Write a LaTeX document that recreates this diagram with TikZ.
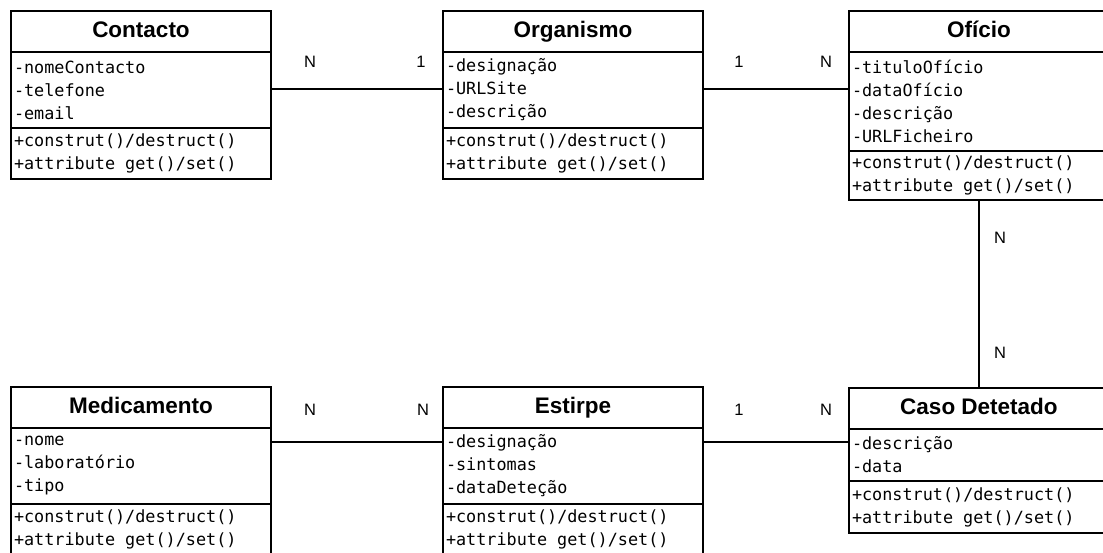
\documentclass[tikz,border=0pt]{standalone}
\usepackage{fontspec}
\setmainfont{Liberation Sans}
\newfontfamily\codefont{DejaVu Sans Mono}
\newcommand\codestyle{\fontsize{16.8}{23}\selectfont\codefont}
\usetikzlibrary{positioning}

\begin{document}
\begin{tikzpicture}[
  x=1pt, y=-1pt,
  node distance=0pt,
  every node/.style={outer sep=0pt},
  ctitle/.style={rectangle, draw=black, line width=2.2pt, minimum width=260pt,
                 minimum height=41pt, inner sep=0pt, text height=16pt, text depth=4pt,
                 font=\fontsize{22.5}{26}\selectfont\bfseries},
  cbody/.style={rectangle, draw=black, line width=2.2pt, minimum width=260pt,
                text width=254pt, inner xsep=3pt, inner ysep=0pt, align=left,
                font=\codestyle, execute at begin node={\spaceskip=10.1pt\relax}},
  link/.style={line width=2.4pt, color=black},
  mult/.style={font=\fontsize{16.5}{19}\selectfont, inner sep=0pt},
]
\useasboundingbox (0,0) rectangle (1103,553);
\clip (0,0) rectangle (1103,553);

% top row
\node[ctitle, anchor=north west] (contT) at (11,11) {Contacto};
\node[cbody, minimum height=76pt, below=of contT] (contA) {-nomeContacto\\-telefone\\-email};
\node[cbody, minimum height=51pt, below=of contA] (contM) {+construt()/destruct()\\+attribute get()/set()};

\node[ctitle, anchor=north west] (orgT) at (443,11) {Organismo};
\node[cbody, minimum height=76pt, below=of orgT] (orgA) {-designação\\-URLSite\\-descrição};
\node[cbody, minimum height=51pt, below=of orgA] (orgM) {+construt()/destruct()\\+attribute get()/set()};

\node[ctitle, anchor=north west] (ofiT) at (849,11) {Ofício};
\node[cbody, minimum height=99pt, below=of ofiT] (ofiA) {-tituloOfício\\-dataOfício\\-descrição\\-URLFicheiro};
\node[cbody, minimum height=49pt, below=of ofiA] (ofiM) {+construt()/destruct()\\+attribute get()/set()};

% bottom row
\node[ctitle, anchor=north west] (medT) at (11,387) {Medicamento};
\node[cbody, minimum height=76pt, below=of medT] (medA) {-nome\\-laboratório\\-tipo};
\node[cbody, minimum height=51pt, below=of medA] (medM) {+construt()/destruct()\\+attribute get()/set()};

\node[ctitle, anchor=north west] (estT) at (443,387) {Estirpe};
\node[cbody, minimum height=76pt, below=of estT] (estA) {-designação\\-sintomas\\-dataDeteção};
\node[cbody, minimum height=51pt, below=of estA] (estM) {+construt()/destruct()\\+attribute get()/set()};

\node[ctitle, anchor=north west] (casoT) at (849,388) {Caso Detetado};
\node[cbody, minimum height=52pt, below=of casoT] (casoA) {-descrição\\-data};
\node[cbody, minimum height=52pt, below=of casoA] (casoM) {+construt()/destruct()\\+attribute get()/set()};

% associations
\draw[link] ([yshift=-37pt]contA.north east) -- ([yshift=-37pt]orgA.north west);
\draw[link] ([yshift=-37pt]orgA.north east) -- ([yshift=-37pt]orgA.north east -| ofiA.west);
\draw[link] (ofiM.south) -- (casoT.north);
\draw[link] ([yshift=-14pt]medA.north east) -- ([yshift=-14pt]estA.north west);
\draw[link] ([yshift=-14pt]estA.north east) -- ([yshift=-14pt]estA.north east -| casoA.west);

% multiplicities
\node[mult] (m1) at (310,62) {N};
\node[mult] (m2) at (421,62) {1};
\node[mult] (m3) at (739,62) {1};
\node[mult] (m4) at (826,62) {N};
\node[mult] (m5) at (1000,238) {N};
\node[mult] (m6) at (1000,353) {N};
\node[mult] (m7) at (310,410) {N};
\node[mult] (m8) at (423,410) {N};
\node[mult] (m9) at (739,410) {1};
\node[mult] (m10) at (826,410) {N};
\end{tikzpicture}
\end{document}
